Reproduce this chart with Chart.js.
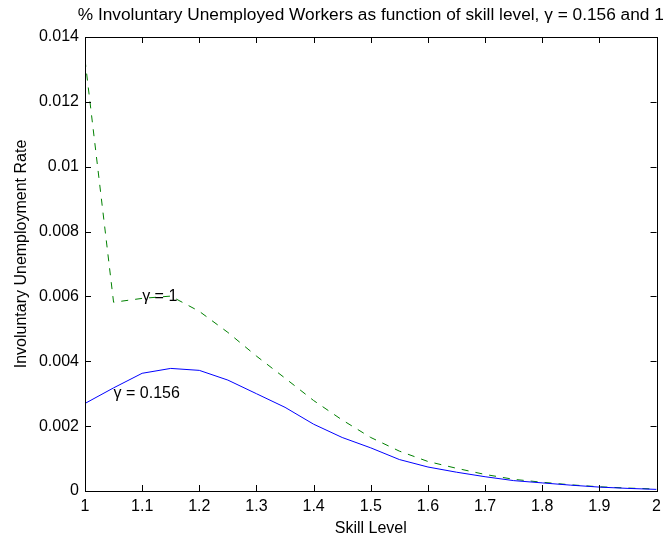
<!DOCTYPE html>
<html>
<head>
<meta charset="utf-8">
<script src="https://cdn.jsdelivr.net/npm/chart.js@4.4.1/dist/chart.umd.min.js"></script>
<style>
  html, body { margin: 0; padding: 0; background: #ffffff; }
  #wrap { width: 667px; height: 539px; }
</style>
</head>
<body>
<div id="wrap"><canvas id="chart" width="667" height="539"></canvas></div>
<script>
// Skill levels on the horizontal axis
const skillLevels = [1.00, 1.05, 1.10, 1.15, 1.20, 1.25, 1.30, 1.35, 1.40, 1.45, 1.50,
                     1.55, 1.60, 1.65, 1.70, 1.75, 1.80, 1.85, 1.90, 1.95, 2.00];

// Involuntary unemployment rate, gamma = 0.156
const rateGammaLow = [0.00270, 0.00318, 0.00363, 0.00378, 0.00372, 0.00342, 0.00300,
                      0.00258, 0.00206, 0.00165, 0.00133, 0.00097, 0.00074, 0.00058,
                      0.00044, 0.00032, 0.00025, 0.00018, 0.00012, 0.00008, 0.00005];

// Involuntary unemployment rate, gamma = 1
const rateGammaOne = [0.01330, 0.00582, 0.00594, 0.00601, 0.00554, 0.00489, 0.00416,
                      0.00348, 0.00279, 0.00219, 0.00165, 0.00123, 0.00091, 0.00070,
                      0.00051, 0.00036, 0.00027, 0.00019, 0.00013, 0.00009, 0.00006];

// Axis ticks
const xTickValues = [1, 1.1, 1.2, 1.3, 1.4, 1.5, 1.6, 1.7, 1.8, 1.9, 2];
const xTickLabels = ['1', '1.1', '1.2', '1.3', '1.4', '1.5', '1.6', '1.7', '1.8', '1.9', '2'];
const yTickValues = [0, 0.002, 0.004, 0.006, 0.008, 0.01, 0.012, 0.014];
const yTickLabels = ['0', '0.002', '0.004', '0.006', '0.008', '0.01', '0.012', '0.014'];

// In-plot curve labels: [text, x, y]
const curveLabels = [
  ['\u03B3 = 1', 1.1, 0.006],
  ['\u03B3 = 0.156', 1.05, 0.003]
];

const chartTitle = '% Involuntary Unemployed Workers as function of skill level, \u03B3 = 0.156 and 1';
const yAxisTitle = 'Involuntary Unemployment Rate';

const FONT = '"Liberation Sans", Arial, Helvetica, sans-serif';

const toPoints = (ys) => skillLevels.map((x, i) => ({ x: x, y: ys[i] }));

// Boxed axes with inward ticks on all four sides, titles and the curve labels
const framePlugin = {
  id: 'frame',
  afterDatasetsDraw(chart) {
    const { ctx, chartArea: a, scales: { x, y } } = chart;
    const tl = 6;
    ctx.save();
    ctx.strokeStyle = '#000000';
    ctx.lineWidth = 1;
    ctx.beginPath();
    xTickValues.forEach(v => {
      const px = Math.round(x.getPixelForValue(v)) + 0.5;
      ctx.moveTo(px, a.bottom); ctx.lineTo(px, a.bottom - tl);
      ctx.moveTo(px, a.top); ctx.lineTo(px, a.top + tl);
    });
    yTickValues.forEach(v => {
      const py = Math.round(y.getPixelForValue(v)) + 0.5;
      ctx.moveTo(a.left, py); ctx.lineTo(a.left + tl, py);
      ctx.moveTo(a.right, py); ctx.lineTo(a.right - tl, py);
    });
    ctx.stroke();
    ctx.strokeRect(Math.round(a.left) + 0.5, Math.round(a.top) + 0.5,
                   Math.round(a.right - a.left), Math.round(a.bottom - a.top));

    ctx.fillStyle = '#000000';
    ctx.font = '16px ' + FONT;
    ctx.textAlign = 'left';
    ctx.textBaseline = 'middle';
    curveLabels.forEach(([t, vx, vy]) => {
      ctx.fillText(t, x.getPixelForValue(vx), y.getPixelForValue(vy));
    });

    // chart title, centred over the plot box
    ctx.font = '17.3px ' + FONT;
    ctx.textAlign = 'center';
    ctx.fillText(chartTitle, (a.left + a.right) / 2, 15);

    // vertical axis title, left of the tick labels
    ctx.font = '16px ' + FONT;
    ctx.translate(22, (a.top + a.bottom) / 2 - 10);
    ctx.rotate(-Math.PI / 2);
    ctx.fillText(yAxisTitle, 0, 0);
    ctx.restore();
  }
};

new Chart(document.getElementById('chart'), {
  type: 'line',
  data: {
    datasets: [
      {
        label: '\u03B3 = 0.156',
        data: toPoints(rateGammaLow),
        borderColor: '#0000ff',
        borderWidth: 1,
        pointRadius: 0,
        tension: 0,
        fill: false
      },
      {
        label: '\u03B3 = 1',
        data: toPoints(rateGammaOne),
        borderColor: '#008000',
        borderWidth: 1,
        borderDash: [7, 7],
        pointRadius: 0,
        tension: 0,
        fill: false
      }
    ]
  },
  options: {
    responsive: false,
    animation: false,
    events: [],
    layout: { padding: { left: 0, right: 6, top: 37, bottom: 0 } },
    plugins: {
      legend: { display: false },
      tooltip: { enabled: false },
      title: { display: false }
    },
    scales: {
      x: {
        type: 'linear',
        min: 1,
        max: 2,
        grid: { display: false, drawTicks: false },
        border: { display: false },
        afterBuildTicks: (s) => { s.ticks = xTickValues.map(v => ({ value: v })); },
        afterFit: (s) => { s.height = 48; },
        ticks: {
          color: '#000000',
          padding: 6,
          maxRotation: 0,
          autoSkip: false,
          font: { family: FONT, size: 16 },
          callback: (v, i) => xTickLabels[i]
        },
        title: {
          display: true,
          text: 'Skill Level',
          color: '#000000',
          font: { family: FONT, size: 16 },
          padding: { top: 0, bottom: 1 }
        }
      },
      y: {
        type: 'linear',
        min: 0,
        max: 0.014,
        grid: { display: false, drawTicks: false },
        border: { display: false },
        afterBuildTicks: (s) => { s.ticks = yTickValues.map(v => ({ value: v })); },
        afterFit: (s) => { s.width = 85; },
        ticks: {
          color: '#000000',
          padding: 6,
          autoSkip: false,
          font: { family: FONT, size: 16 },
          callback: (v, i) => yTickLabels[i]
        },
        title: { display: false }
      }
    }
  },
  plugins: [framePlugin]
});
</script>
</body>
</html>
